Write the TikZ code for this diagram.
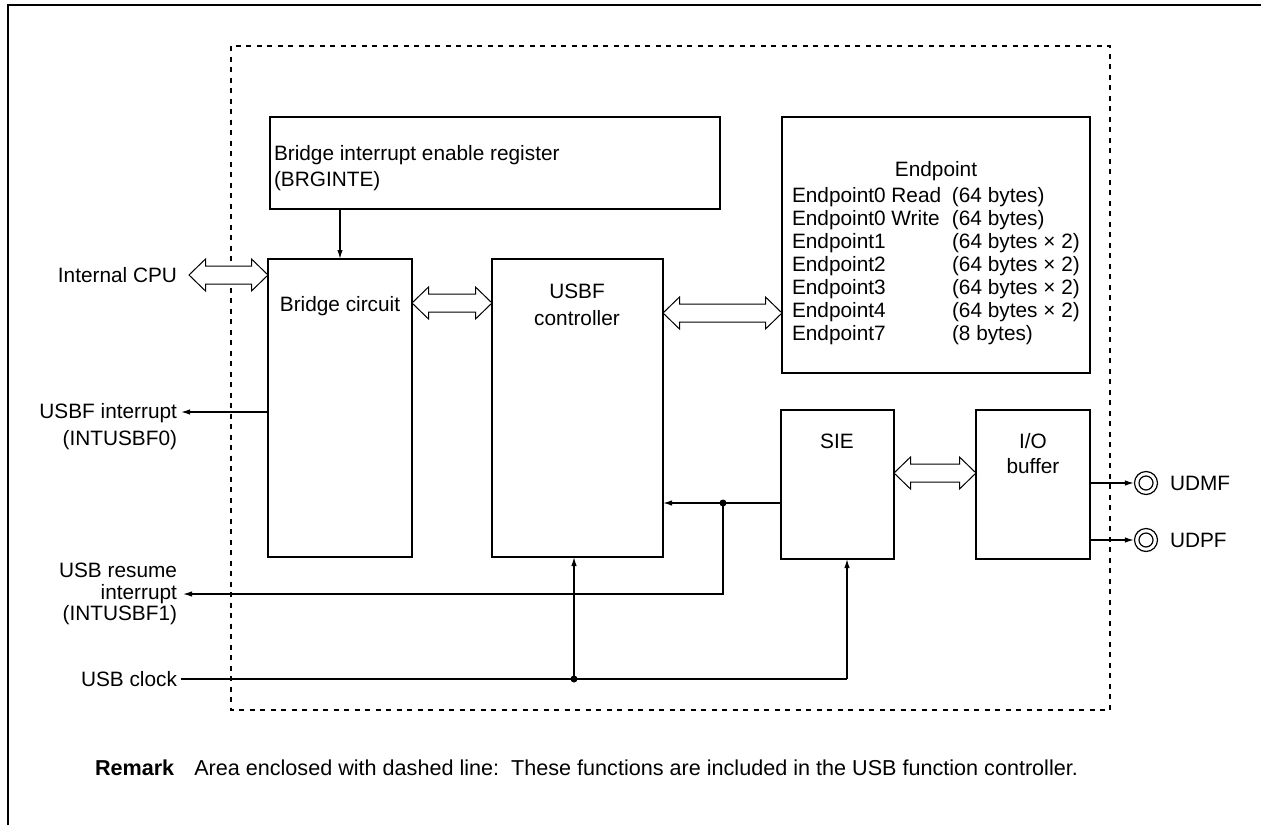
\documentclass[tikz,border=0pt]{standalone}
\usepackage{fontspec}
\setmainfont{Liberation Sans}
\usetikzlibrary{arrows.meta,calc}
\newcommand\dfs[1]{\fontsize{20.8}{#1}\selectfont}
\newcommand\hollowdbl[2]{%
  \draw[hol] (#1) -- ($(#1)+(16.5,16)$) -- ($(#1)+(16.5,9)$) -- ($(#2)+(-16.5,9)$)
    -- ($(#2)+(-16.5,16)$) -- (#2) -- ($(#2)+(-16.5,-16)$) -- ($(#2)+(-16.5,-9)$)
    -- ($(#1)+(16.5,-9)$) -- ($(#1)+(16.5,-16)$) -- cycle;}
\begin{document}
\begin{tikzpicture}[x=1pt,y=-1pt,
  box/.style={draw, line width=2.9pt, anchor=north west, inner sep=0pt, outer sep=0pt},
  lbl/.style={inner sep=0pt, outer sep=0pt},
  con/.style={line width=1.3pt},
  arr/.style={con, -{Latex[length=9pt,width=5.5pt]}},
  hol/.style={line width=1pt, fill=white, line join=miter},
  pin/.style={circle, draw, line width=1.2pt, minimum size=23pt, inner sep=0pt}]
\useasboundingbox (0,0) rectangle (1261,825);
% outer frame (partial)
\draw[line width=2.8pt] (8,825) -- (8,5) -- (1261,5);
% dashed area
\draw[line width=2.8pt, dash pattern=on 5pt off 5.5pt] (231,46) rectangle (1110,710);
% boxes
\node[box, minimum width=450pt, minimum height=92pt] (brg) at (270,117) {};
\node[box, minimum width=144pt, minimum height=298pt] (bridge) at (268,259) {};
\node[box, minimum width=171pt, minimum height=298pt] (usbf) at (492,259) {};
\node[box, minimum width=308pt, minimum height=256pt] (ep) at (782,117) {};
\node[box, minimum width=113pt, minimum height=149pt] (sie) at (781,410) {};
\node[box, minimum width=114pt, minimum height=149pt] (io) at (976,410) {};
% box texts
\node[lbl, anchor=west, align=left, font=\dfs{26pt}] (brgT) at (274,168) {Bridge interrupt enable register\\(BRGINTE)};
\node[lbl, font=\dfs{26pt}] (bridgeT) at (340,306) {Bridge circuit};
\node[lbl, align=center, font=\dfs{27pt}] (usbfT) at (577,304.5) {USBF\\controller};
\node[lbl, font=\dfs{26pt}] (epT) at (936,171) {Endpoint};
\node[lbl, anchor=west, align=left, font=\dfs{23pt}] (epL) at (792,266) {%
  \makebox[160pt][l]{Endpoint0 Read}(64 bytes)\\
  \makebox[160pt][l]{Endpoint0 Write}(64 bytes)\\
  \makebox[160pt][l]{Endpoint1}(64 bytes × 2)\\
  \makebox[160pt][l]{Endpoint2}(64 bytes × 2)\\
  \makebox[160pt][l]{Endpoint3}(64 bytes × 2)\\
  \makebox[160pt][l]{Endpoint4}(64 bytes × 2)\\
  \makebox[160pt][l]{Endpoint7}(8 bytes)};
\node[lbl, font=\dfs{26pt}] (sieT) at (837,441) {SIE};
\node[lbl, align=center, font=\dfs{25pt}] (ioT) at (1033,453.5) {I/O\\buffer};
% outside labels
\node[lbl, anchor=east, font=\dfs{26pt}] (cpuT) at (177,275) {Internal CPU};
\node[lbl, anchor=east, align=right, font=\dfs{27pt}] (int0T) at (177,426.5) {USBF interrupt\\(INTUSBF0)};
\node[lbl, anchor=east, align=right, font=\dfs{21.5pt}] (int1T) at (177,594) {USB resume\\interrupt\\(INTUSBF1)};
\node[lbl, anchor=east, font=\dfs{26pt}] (clkT) at (177,679) {USB clock};
% pins
\node[pin] (udmf) at (1146,483) {};
\node[pin] (udpf) at (1146,540) {};
\draw[line width=1.2pt] (udmf) circle (7pt);
\draw[line width=1.2pt] (udpf) circle (7pt);
\node[lbl, anchor=west, font=\dfs{26pt}] (udmfT) at (1170,483) {UDMF};
\node[lbl, anchor=west, font=\dfs{26pt}] (udpfT) at (1170,540) {UDPF};
% remark
\node[lbl, anchor=west, font={\fontsize{21.6}{26}\selectfont}] (rem) at (95,768) {\textbf{Remark}\hspace{20pt}Area enclosed with dashed line:\ \ These functions are included in the USB function controller.};
% coordinates
\coordinate (cpuA) at (189,275);
\coordinate (intA) at (181,412);
\coordinate (resA) at (183,594);
\coordinate (clkS) at (181,679);
\coordinate (j1) at (723,503);
\coordinate (j2) at (574,679);
\coordinate (clkB) at (847,679);
% hollow double arrows
\hollowdbl{cpuA}{bridge.north west |- cpuA}
\coordinate (bu) at (0,303);
\hollowdbl{bridge.east |- bu}{usbf.west |- bu}
\coordinate (ue) at (0,313);
\hollowdbl{usbf.east |- ue}{ep.west |- ue}
\coordinate (si) at (0,473);
\hollowdbl{sie.east |- si}{io.west |- si}
% connectors
\draw[arr] (brg.south -| bridge.north) -- (bridge.north);
\draw[arr] (bridge.west |- intA) -- (intA);
\draw[con] (sie.west |- j1) -- (j1);
\draw[arr] (j1) -- (usbf.east |- j1);
\draw[arr] (j1) |- (resA);
\draw[con] (clkS) -- (clkB);
\draw[arr] (clkB) -- (sie.south -| clkB);
\draw[arr] (j2) -- (usbf.south -| j2);
\fill (j1) circle (3.5pt);
\fill (j2) circle (3.5pt);
\draw[arr] (io.east |- udmf) -- (udmf.west);
\draw[arr] (io.east |- udpf) -- (udpf.west);
\end{tikzpicture}
\end{document}
